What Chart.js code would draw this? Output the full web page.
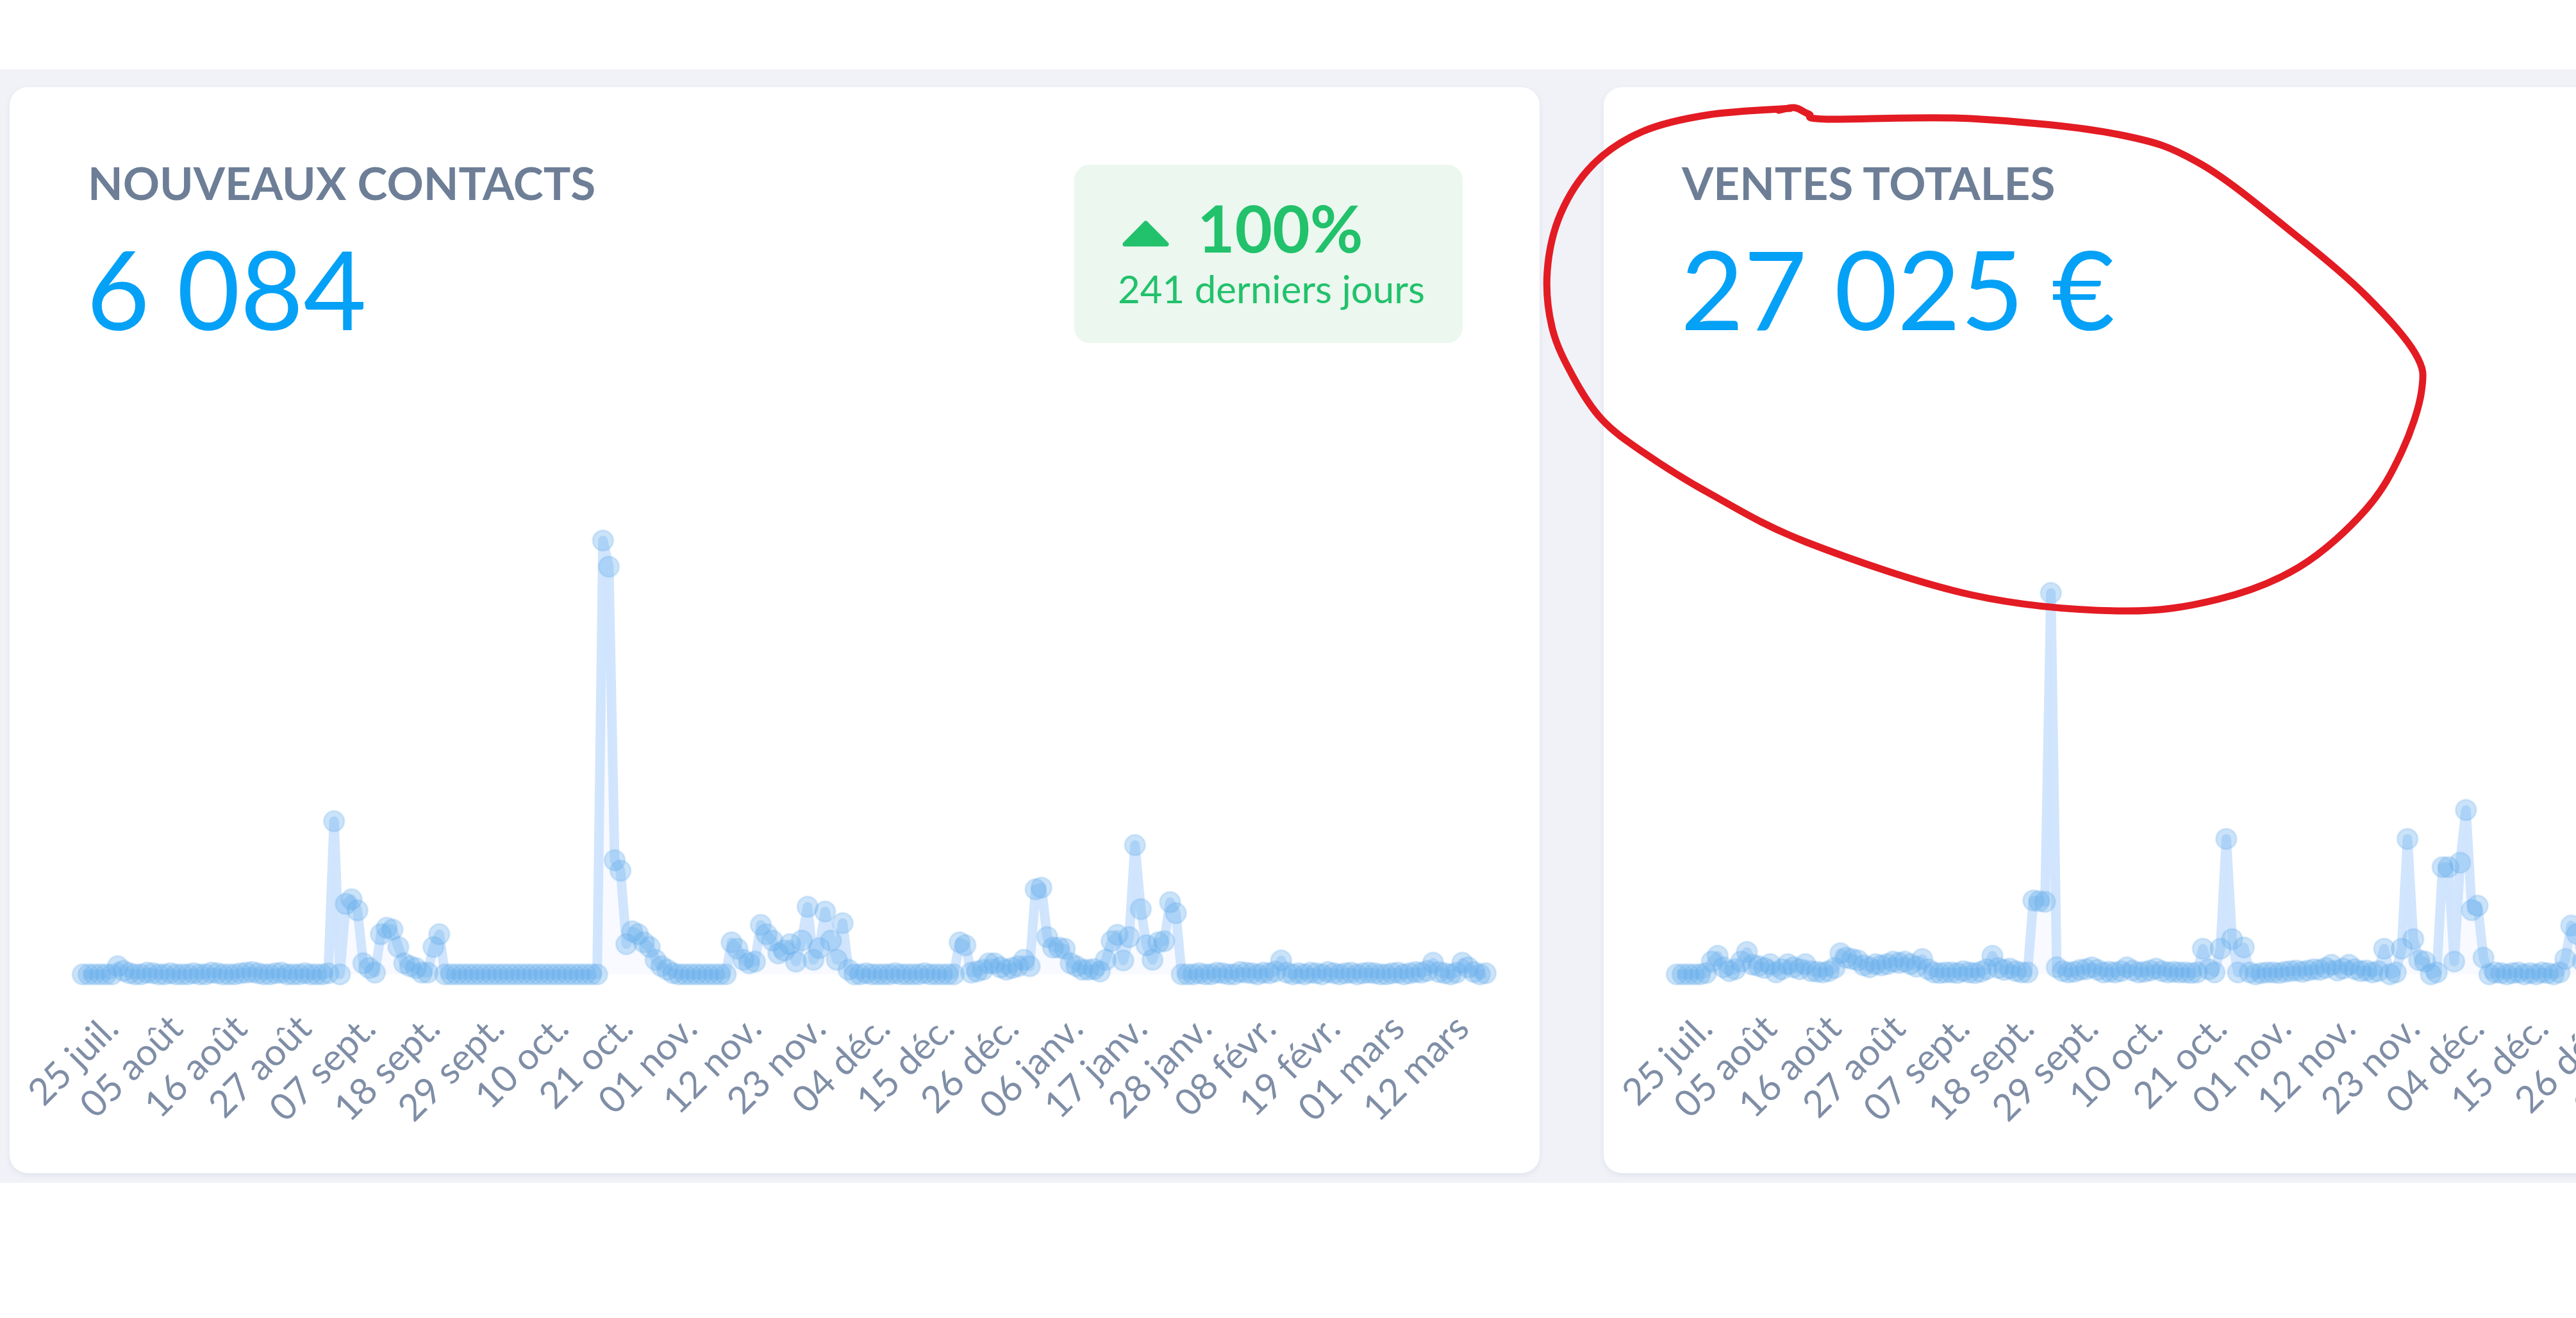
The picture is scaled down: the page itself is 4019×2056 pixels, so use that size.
<!DOCTYPE html>
<html lang="fr">
<head>
<meta charset="utf-8">
<title>Tableau de bord</title>
<script src="https://cdn.jsdelivr.net/npm/chart.js@4.4.0/dist/chart.umd.min.js"></script>
<style>
  html, body { margin: 0; padding: 0; }
  body {
    width: 4019px; height: 2056px; overflow: hidden; position: relative;
    background: #ffffff; font-family: Lato, 'Noto Sans', sans-serif;
  }
  #band { position: absolute; left: 0; top: 108px; width: 4019px; height: 1737px; background: #f0f2f7; }
  .card {
    position: absolute; top: 136px; width: 2387px; height: 1694px;
    background: #fff; border-radius: 28px; box-shadow: 0 3px 10px rgba(40, 60, 100, 0.08);
  }
  #card1 { left: 15px; }
  #card2 { left: 2502px; }
  .title {
    position: absolute; left: 122px; top: 113px; font-size: 71px; line-height: 71px;
    font-weight: 700; color: #6d7e96; white-space: nowrap;
  }
  .value {
    position: absolute; left: 120px; top: 228px; font-size: 170px; line-height: 170px;
    font-weight: 400; color: #05a1f7; white-space: nowrap;
  }
  .badge {
    position: absolute; left: 1661px; top: 121px; width: 606px; height: 278px;
    border-radius: 24px; background: #ebf7ef; color: #22c16b;
  }
  .badge svg { position: absolute; left: 75px; top: 87px; }
  .badge .pct {
    position: absolute; left: 192px; top: 48px; font-size: 101px; line-height: 101px;
    font-weight: 700; white-space: nowrap;
  }
  .badge .period {
    position: absolute; left: 68px; top: 163px; font-size: 60px; line-height: 60px;
    font-weight: 400; white-space: nowrap;
  }
  .card canvas { position: absolute; left: -60px; top: 450px; }
  #ink { position: absolute; left: 0; top: 0; pointer-events: none; }
</style>
</head>
<body>
<div id="band"></div>

<div class="card" id="card1">
  <div class="title">NOUVEAUX CONTACTS</div>
  <div class="value">6&#8239;084</div>
  <div class="badge">
    <svg width="73" height="41" viewBox="0 0 73 41">
      <polygon points="36.5,4 69,37 4,37" fill="#22c16b" stroke="#22c16b" stroke-width="7" stroke-linejoin="round"/>
    </svg>
    <div class="pct">100%</div>
    <div class="period">241 derniers jours</div>
  </div>
  <canvas id="contactsChart" width="2460" height="1300" style="width:2460px;height:1300px"></canvas>
</div>

<div class="card" id="card2">
  <div class="title">VENTES TOTALES</div>
  <div class="value">27&#8239;025&nbsp;€</div>
  <canvas id="ventesChart" width="2460" height="1300" style="width:2460px;height:1300px"></canvas>
</div>

<svg id="ink" width="4019" height="2056"><path id="inkPath" fill="none" stroke="#e31b23" stroke-width="11" stroke-linecap="round" stroke-linejoin="round"/></svg>

<script>
// x-axis labels, one every 11 days
const tickLabels = ['25 juil.', '05 août', '16 août', '27 août', '07 sept.', '18 sept.', '29 sept.',
    '10 oct.', '21 oct.', '01 nov.', '12 nov.', '23 nov.', '04 déc.', '15 déc.', '26 déc.',
    '06 janv.', '17 janv.', '28 janv.', '08 févr.', '19 févr.', '01 mars', '12 mars'];
const tickStep = 11;

// new contacts per day (241 days)
const contacts = [
    0, 0, 0, 0, 0, 0, 14, 6, 2, 0,
    0, 3, 2, 0, 0, 2, 0, 0, 0, 2,
    0, 0, 3, 2, 0, 0, 0, 2, 3, 4,
    2, 0, 0, 2, 3, 0, 0, 0, 2, 0,
    0, 0, 2, 263, 0, 121, 129, 110, 19, 11,
    3, 69, 80, 77, 47, 19, 14, 11, 3, 3,
    47, 69, 0, 0, 0, 0, 0, 0, 0, 0,
    0, 0, 0, 0, 0, 0, 0, 0, 0, 0,
    0, 0, 0, 0, 0, 0, 0, 0, 0, 745,
    700, 196, 178, 52, 74, 69, 55, 47, 25, 14,
    8, 2, 0, 0, 0, 0, 0, 0, 0, 0,
    0, 55, 44, 25, 19, 22, 85, 69, 58, 36,
    41, 52, 22, 58, 116, 25, 45, 108, 58, 25,
    88, 8, 0, 0, 2, 0, 0, 0, 0, 2,
    0, 0, 0, 0, 2, 0, 0, 0, 0, 0,
    55, 50, 3, 5, 8, 19, 19, 12, 8, 11,
    14, 25, 14, 146, 149, 64, 46, 46, 44, 19,
    14, 8, 8, 9, 5, 25, 57, 68, 24, 64,
    222, 112, 50, 25, 55, 57, 124, 105, 0, 0,
    0, 2, 0, 0, 3, 2, 0, 0, 4, 3,
    2, 0, 3, 2, 5, 24, 3, 0, 2, 0,
    3, 2, 0, 4, 2, 0, 2, 3, 0, 2,
    3, 2, 0, 0, 2, 3, 0, 2, 4, 3,
    6, 20, 4, 2, 0, 3, 20, 12, 4, 0,
    2
];

// sales per day in euros (241 days)
const ventes = [
    0, 0, 0, 0, 0, 10, 100, 145, 55, 25,
    40, 100, 175, 75, 65, 50, 80, 15, 40, 80,
    55, 40, 80, 25, 20, 15, 25, 50, 165, 130,
    120, 110, 70, 55, 80, 70, 80, 100, 90, 100,
    80, 60, 120, 40, 15, 10, 15, 15, 10, 25,
    15, 10, 20, 40, 145, 50, 35, 45, 25, 15,
    15, 575, 570, 565, 2970, 55, 25, 15, 20, 35,
    40, 55, 35, 15, 20, 15, 25, 55, 30, 15,
    20, 30, 45, 25, 15, 20, 15, 15, 10, 15,
    200, 40, 15, 200, 1055, 275, 15, 210, 15, 0,
    10, 15, 15, 10, 20, 25, 30, 20, 30, 40,
    35, 50, 75, 30, 45, 75, 40, 25, 30, 15,
    25, 200, 0, 15, 200, 1055, 275, 110, 100, 0,
    15, 835, 835, 100, 870, 1280, 500, 535, 130, 0,
    15, 10, 0, 10, 15, 0, 10, 0, 15, 10,
    0, 15, 120, 380, 315, 100, 25, 15, 10, 20,
    15, 25, 60, 450, 200, 40, 20, 15, 10, 25,
    15, 10, 20, 30, 15, 10, 300, 120, 25, 40,
    750, 300, 60, 25, 20, 15, 400, 150, 10, 0,
    10, 15, 0, 20, 10, 15, 25, 10, 0, 15,
    10, 20, 15, 0, 30, 120, 15, 10, 0, 20,
    15, 10, 25, 15, 0, 10, 20, 15, 30, 10,
    15, 0, 10, 25, 15, 10, 20, 0, 15, 10,
    40, 100, 20, 15, 10, 0, 90, 50, 15, 10,
    15
];

const dayLabels = contacts.map((_, i) => (i % tickStep === 0 && tickLabels[i / tickStep]) ? tickLabels[i / tickStep] : '');

Chart.defaults.font.family = 'Lato';

function createSparkline(canvasId, values, yMax) {
    const ctx = document.getElementById(canvasId).getContext('2d');

    return new Chart(ctx, {
        type: 'line',
        data: {
            labels: dayLabels,
            datasets: [{
                data: values,
                borderColor: 'rgba(204, 226, 253, 0.9)',
                borderWidth: 15,
                borderJoinStyle: 'round',
                backgroundColor: 'rgba(214, 230, 255, 0.18)',
                fill: 'origin',
                tension: 0,
                pointRadius: 16,
                pointBackgroundColor: 'rgba(100, 172, 234, 0.34)',
                pointBorderColor: 'rgba(100, 172, 234, 0.2)',
                pointBorderWidth: 3,
                clip: false,
            }]
        },
        options: {
            responsive: false,
            animation: false,
            layout: {
                padding: { left: 174, right: 97, top: 100, bottom: 56 }
            },
            scales: {
                x: {
                    grid: { display: false },
                    border: { display: false },
                    // fixed axis height so the plot area stays put; labels are clipped to this box
                    afterFit: (scale) => { scale.height = 310; },
                    ticks: {
                        autoSkip: false,
                        minRotation: 45,
                        maxRotation: 45,
                        padding: 42,
                        labelOffset: 46,
                        color: '#7f8ea6',
                        font: { size: 58 },
                    },
                },
                y: {
                    display: false,
                    min: 0,
                    max: yMax,
                },
            },
            plugins: {
                legend: { display: false },
                tooltip: { enabled: false },
            }
        }
    });
}

const charts = [
    createSparkline('contactsChart', contacts, 918),
    createSparkline('ventesChart', ventes, 4163),
];
document.fonts.ready.then(() => charts.forEach(c => c.update()));

// red hand-drawn circle around the sales header
const inkPoints = [[2794, 169], [2666, 179], [2563, 205], [2486, 256], [2435, 333], [2414, 423],
    [2422, 513], [2455, 589], [2499, 654], [2563, 705], [2666, 769], [2819, 846], [3076, 928],
    [3306, 953], [3460, 935], [3588, 884], [3691, 795], [3747, 705], [3778, 610], [3768, 551],
    [3691, 461], [3588, 372], [3434, 256], [3306, 210], [3076, 185], [2850, 186], [2822, 178], [2800, 168], [2775, 172]];

function smoothPath(pts) {
    let d = `M${pts[0][0]},${pts[0][1]}`;
    for (let i = 0; i < pts.length - 1; i++) {
        const p0 = pts[i - 1] || pts[i], p1 = pts[i], p2 = pts[i + 1], p3 = pts[i + 2] || p2;
        const c1 = [p1[0] + (p2[0] - p0[0]) / 6, p1[1] + (p2[1] - p0[1]) / 6];
        const c2 = [p2[0] - (p3[0] - p1[0]) / 6, p2[1] - (p3[1] - p1[1]) / 6];
        d += ` C${c1[0]},${c1[1]} ${c2[0]},${c2[1]} ${p2[0]},${p2[1]}`;
    }
    return d;
}
document.getElementById('inkPath').setAttribute('d', smoothPath(inkPoints));
</script>
</body>
</html>
